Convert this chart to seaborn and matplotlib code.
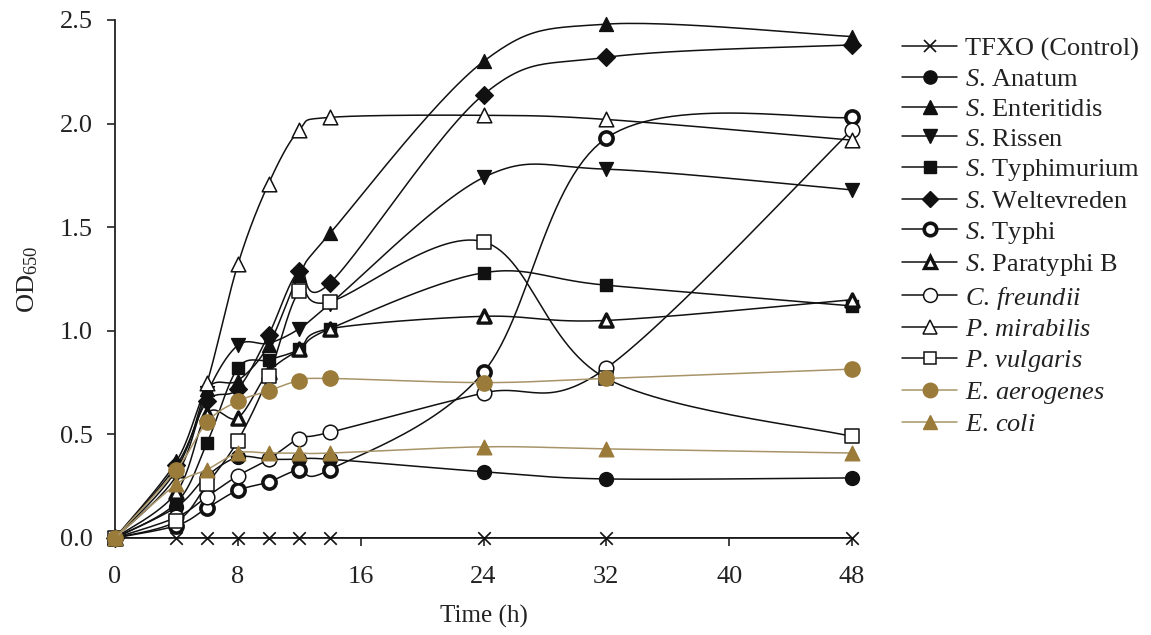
import numpy as np
import pandas as pd
import matplotlib
matplotlib.use("Agg")
import matplotlib.pyplot as plt
from matplotlib.lines import Line2D
import seaborn as sns

sns.set_theme(style="ticks")
plt.rcParams['font.family'] = ['Liberation Serif', 'DejaVu Serif']
plt.rcParams['mathtext.fontset'] = 'custom'
plt.rcParams['mathtext.rm'] = 'Liberation Serif'
plt.rcParams['mathtext.it'] = 'Liberation Serif:italic'

# ---------------- data ----------------
time_h = [0, 4, 6, 8, 10, 12, 14, 24, 32, 48]

tfxo        = [0.0, 0.0, 0.0, 0.0, 0.0, 0.0, 0.0, 0.0, 0.0, 0.0]
s_anatum    = [0.0, 0.15, 0.30, 0.39, 0.38, 0.38, 0.38, 0.32, 0.285, 0.29]
s_enterit   = [0.0, 0.37, 0.72, 0.76, 0.93, 1.27, 1.47, 2.30, 2.48, 2.42]
s_rissen    = [0.0, 0.30, 0.70, 0.93, 0.94, 1.01, 1.13, 1.74, 1.78, 1.68]
s_typhimur  = [0.0, 0.17, 0.46, 0.82, 0.86, 0.91, 1.01, 1.28, 1.22, 1.12]
s_weltev    = [0.0, 0.35, 0.66, 0.72, 0.98, 1.29, 1.23, 2.14, 2.32, 2.38]
s_typhi     = [0.0, 0.06, 0.145, 0.23, 0.27, 0.33, 0.33, 0.80, 1.93, 2.03]
s_paratyphi = [0.0, 0.22, 0.60, 0.58, 0.80, 0.91, 1.01, 1.07, 1.05, 1.15]
c_freundii  = [0.0, 0.10, 0.20, 0.30, 0.38, 0.48, 0.51, 0.70, 0.82, 1.97]
p_mirabilis = [0.0, 0.33, 0.75, 1.32, 1.71, 1.97, 2.03, 2.04, 2.02, 1.92]
p_vulgaris  = [0.0, 0.08, 0.26, 0.47, 0.78, 1.19, 1.14, 1.43, 0.77, 0.49]
e_aerogenes = [0.0, 0.33, 0.56, 0.66, 0.71, 0.76, 0.77, 0.75, 0.77, 0.815]
e_coli      = [0.0, 0.26, 0.33, 0.41, 0.41, 0.41, 0.41, 0.44, 0.43, 0.41]

labels = ["TFXO (Control)",
          r"$\it{S.}\,\mathrm{Anatum}$", r"$\it{S.}\,\mathrm{Enteritidis}$",
          r"$\it{S.}\,\mathrm{Rissen}$", r"$\it{S.}\,\mathrm{Typhimurium}$",
          r"$\it{S.}\,\mathrm{Weltevreden}$", r"$\it{S.}\,\mathrm{Typhi}$",
          r"$\it{S.}\,\mathrm{Paratyphi\ B}$", r"$\it{C.\,freundii}$",
          r"$\it{P.\,mirabilis}$", r"$\it{P.\,vulgaris}$", r"$\it{E.\,aerogenes}$",
          r"$\it{E.\,coli}$"]
series = [tfxo, s_anatum, s_enterit, s_rissen, s_typhimur, s_weltev, s_typhi,
          s_paratyphi, c_freundii, p_mirabilis, p_vulgaris, e_aerogenes, e_coli]

BLK = "#111111"
BRN = "#9a7b3a"
BRN_LINE = "#a89468"
# marker, face, edge, edge width, size(pt), line color
styles = [
    ("x", BLK, BLK, 1.2, 9, BLK),
    ("o", BLK, BLK, 1.0, 10, BLK),
    ("^", BLK, BLK, 1.0, 10, BLK),
    ("v", BLK, BLK, 1.0, 10, BLK),
    ("s", BLK, BLK, 1.0, 9, BLK),
    ("D", BLK, BLK, 1.0, 9, BLK),
    ("o", "white", BLK, 2.6, 9.5, BLK),
    ("^", "white", BLK, 2.4, 9.5, BLK),
    ("o", "white", BLK, 1.1, 10.5, BLK),
    ("^", "white", BLK, 1.1, 10.5, BLK),
    ("s", "white", BLK, 1.1, 9.5, BLK),
    ("o", BRN, BRN, 1.0, 11, BRN_LINE),
    ("^", BRN, BRN, 1.0, 10.5, BRN_LINE),
]


def smooth_curve(x, y, n=30):
    """Excel-like smoothed line (Catmull-Rom Bezier) through the data points."""
    p = np.column_stack([np.asarray(x, float), np.asarray(y, float)])
    xs, ys = [], []
    t = np.linspace(0, 1, n)[:, None]
    for i in range(len(p) - 1):
        p0 = p[i - 1] if i > 0 else p[i]
        p1, p2 = p[i], p[i + 1]
        p3 = p[i + 2] if i + 2 < len(p) else p[i + 1]
        c1 = p1 + (p2 - p0) / 6.0
        c2 = p2 - (p3 - p1) / 6.0
        b = ((1 - t) ** 3) * p1 + 3 * ((1 - t) ** 2) * t * c1 + 3 * (1 - t) * t ** 2 * c2 + t ** 3 * p2
        if i > 0:
            b = b[1:]
        xs.append(b[:, 0]); ys.append(b[:, 1])
    return np.concatenate(xs), np.concatenate(ys)


fig = plt.figure(figsize=(11.51, 6.35), dpi=100)
ax = fig.add_axes([115 / 1151, 1 - 538 / 635, (852 - 115) / 1151, (538 - 20) / 635])

handles = []
for k, (lab, vals, st) in enumerate(zip(labels, series, styles)):
    mk, fc, ec, mew, ms, lc = st
    z = 3 + k * 0.1 + (2 if lc == BRN_LINE else 0)
    sx, sy = smooth_curve(time_h, vals)
    sns.lineplot(x=sx, y=sy, sort=False, estimator=None, ax=ax, color=lc,
                 linewidth=1.1, zorder=z)
    df = pd.DataFrame({"t": time_h, "v": vals})
    if mk == "x":
        sns.scatterplot(data=df, x="t", y="v", ax=ax, marker="x", color=BLK,
                        s=ms ** 2, linewidth=mew, zorder=z + 0.05, clip_on=False)
    else:
        sns.scatterplot(data=df, x="t", y="v", ax=ax, marker=mk, facecolor=fc,
                        edgecolor=ec, linewidth=mew, s=ms ** 2, zorder=z + 0.05,
                        clip_on=False)
    handles.append(Line2D([0], [0], color=lc, lw=1.1, marker=mk,
                          markerfacecolor=fc, markeredgecolor=ec,
                          markeredgewidth=mew, markersize=ms * 0.95))

ax.set_xlim(0, 48)
ax.set_ylim(0, 2.5)
ax.set_xticks([0, 8, 16, 24, 32, 40, 48])
ax.set_yticks([0.0, 0.5, 1.0, 1.5, 2.0, 2.5])
ax.set_yticklabels(["0.0", "0.5", "1.0", "1.5", "2.0", "2.5"])
for s in ["top", "right"]:
    ax.spines[s].set_visible(False)
for s in ["left", "bottom"]:
    ax.spines[s].set_color("#222222")
    ax.spines[s].set_linewidth(1.3)
ax.tick_params(axis="both", direction="out", length=6, width=1.2,
               labelsize=19, colors="#222222")
ax.tick_params(axis="x", pad=14)
ax.tick_params(axis="y", pad=10)
ax.set_xlabel("Time (h)", fontsize=18, labelpad=12, color="#222222")
ax.set_ylabel(r"OD$_{650}$", fontsize=19, labelpad=14, color="#222222")
ax.grid(False)

leg = fig.legend(handles, labels, loc="upper left",
                 bbox_to_anchor=(902 / 1151, 1 - 37 / 635), frameon=False,
                 fontsize=19, handlelength=2.1, handletextpad=0.3,
                 labelspacing=0.245, borderpad=0, borderaxespad=0)
for txt in leg.get_texts():
    txt.set_color("#222222")

fig.savefig("out.png", dpi=100)
